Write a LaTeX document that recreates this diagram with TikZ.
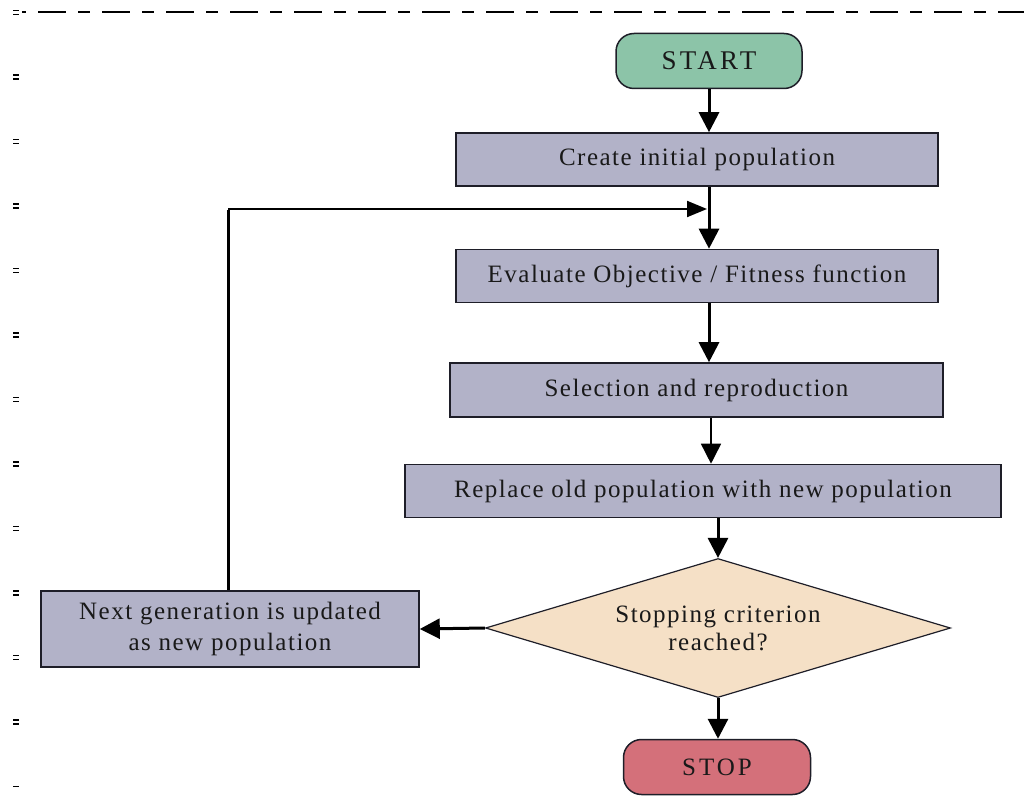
\documentclass[tikz,border=0pt]{standalone}
\usepackage{fontspec}
\setmainfont{Liberation Serif}[LetterSpace=6]
\newfontfamily\termfont{Liberation Serif}[LetterSpace=12]
\usetikzlibrary{arrows.meta,shapes.geometric,calc}
\definecolor{procfill}{RGB}{178,178,200}
\definecolor{startfill}{RGB}{140,196,168}
\definecolor{stopfill}{RGB}{212,112,122}
\definecolor{decfill}{RGB}{245,224,198}
\definecolor{edge}{RGB}{30,30,40}

\begin{document}
\begin{tikzpicture}[x=1pt,y=-1pt,
  every node/.style={inner sep=0pt, font=\fontsize{25}{29}\selectfont, text=black!90},
  proc/.style={draw=edge, line width=1.6pt, fill=procfill, minimum height=53pt},
  term/.style={draw=edge, line width=1.5pt, rounded corners=18pt, minimum height=55pt, minimum width=186pt},
  decision/.style={diamond, draw=edge, line width=1.2pt, fill=decfill,
    minimum width=465pt, minimum height=139pt, shape aspect=3.3, align=center},
  conn/.style={line width=3pt, -{Triangle[width=20pt,length=20pt]}},
  thinconn/.style={line width=1.6pt, -{Triangle[width=20pt,length=20pt]}},
  marginbar/.style={line width=1.7pt}
]
\path[use as bounding box] (0,0) rectangle (1024,805);

% page frame: dashed top rule and tick marks down the left margin
\draw[line width=2pt, dash pattern=on 28pt off 12pt on 12pt off 12pt, dash phase=48pt] (22,12) -- (1024,12);
\foreach \k in {0,...,11}{
  \draw[marginbar] (13,{12.5+64.5*\k-1.9}) -- ++(5.5,0);
  \draw[marginbar] (13,{12.5+64.5*\k+1.9}) -- ++(5.5,0);
}
\draw[marginbar] (13,786.5) -- ++(5.5,0);

% flowchart blocks
\node[term, fill=startfill, font=\termfont\fontsize{27}{27}\selectfont] (start) at (709,61) {START};
\node[proc, minimum width=482pt] (create) at (697,159.5) {Create initial population};
\node[proc, minimum width=482pt] (evaluate) at (697,276) {Evaluate Objective / Fitness function};
\node[proc, minimum width=493pt, minimum height=54pt] (select) at (696.5,390) {Selection and reproduction};
\node[proc, minimum width=596pt] (replace) at (703,491) {Replace old population with new population};
\node[decision, font=\fontsize{25}{28}\selectfont] (crit) at (718,628) {Stopping criterion\\reached?};
\node[proc, minimum width=378pt, minimum height=76pt, align=center, font=\fontsize{25}{31}\selectfont] (next) at (230,629) {Next generation is updated\\as new population};
\node[term, fill=stopfill, minimum width=187pt, font=\termfont\fontsize{25}{25}\selectfont] (stop) at (717,767) {STOP};

% connector axes
\coordinate (axA) at (709,0);
\coordinate (axB) at (711,0);
\coordinate (axC) at (718,0);
\coordinate (loopcorner) at (228,209);
\coordinate (loopjoin) at (707,209);

% main flow
\draw[conn] (start.south -| axA) -- (create.north -| axA);
\draw[conn] (create.south -| axA) -- (evaluate.north -| axA);
\draw[conn] (evaluate.south -| axA) -- (select.north -| axA);
\draw[thinconn] (select.south -| axB) -- (replace.north -| axB);
\draw[conn] (replace.south -| axC) -- (crit.north -| axC);
\draw[conn] (crit.south -| axC) -- (stop.north -| axC);
\draw[conn] (crit.west) -- (next.east);

% feedback loop
\draw[line width=3pt] (next.north -| loopcorner) -- ([yshift=-1pt]loopcorner);
\draw[line width=2pt, -{Triangle[width=16pt,length=20pt]}] (loopcorner) -- (loopjoin);
\end{tikzpicture}
\end{document}
